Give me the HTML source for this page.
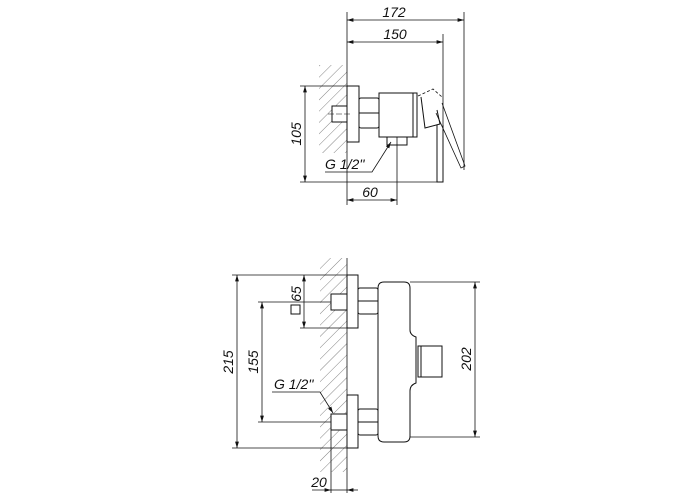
<!DOCTYPE html>
<html><head><meta charset="utf-8"><style>
html,body{margin:0;padding:0;background:#fff;}
svg{display:block;}
text{font-family:"Liberation Sans",sans-serif;font-style:italic;font-size:14px;fill:#111;}
</style></head><body>
<svg width="700" height="500" viewBox="0 0 700 500" xmlns="http://www.w3.org/2000/svg">
<defs>
<pattern id="h" patternUnits="userSpaceOnUse" width="8" height="8" patternTransform="rotate(45)">
<line x1="0" y1="0" x2="0" y2="8" stroke="#777" stroke-width="0.9"/>
</pattern>
<marker id="a" viewBox="0 0 10 10" refX="10" refY="5" markerWidth="8" markerHeight="8" orient="auto-start-reverse">
<path d="M0,2 L10,5 L0,8 z" fill="#111"/>
</marker>
</defs>
<g stroke="#111" fill="none" stroke-width="1">
<!-- TOP VIEW -->
<rect x="319" y="65" width="28" height="88" fill="url(#h)" stroke="none"/>
<line x1="347" y1="12" x2="347" y2="205" stroke-width="0.8"/>
<line x1="464" y1="12" x2="464" y2="170" stroke-width="0.8"/>
<line x1="443" y1="34" x2="443" y2="182" stroke-width="0.8"/>
<line x1="347" y1="20" x2="464" y2="20" marker-start="url(#a)" marker-end="url(#a)" stroke-width="0.8"/>
<line x1="347" y1="42" x2="443" y2="42" marker-start="url(#a)" marker-end="url(#a)" stroke-width="0.8"/>
<line x1="300" y1="86" x2="347" y2="86" stroke-width="0.8"/>
<line x1="300" y1="182" x2="443" y2="182" stroke-width="0.8"/>
<line x1="305" y1="86" x2="305" y2="182" marker-start="url(#a)" marker-end="url(#a)" stroke-width="0.8"/>
<rect x="347" y="86" width="12" height="56" fill="#fff"/>
<rect x="332" y="106" width="15" height="16" fill="#fff"/>
<line x1="328" y1="114" x2="352" y2="114" stroke-dasharray="6 2" stroke-width="0.6"/>
<rect x="359" y="98" width="20" height="30" rx="2" fill="#fff"/>
<line x1="359" y1="113" x2="379" y2="113"/>
<rect x="379" y="93" width="38" height="44" fill="#fff"/>
<line x1="413" y1="93" x2="413" y2="137"/>
<rect x="387" y="137" width="20" height="8" fill="#fff"/>
<line x1="397" y1="137" x2="397" y2="205" stroke-width="0.8"/>
<path d="M418,96 L433,89 L442,97" stroke-dasharray="3 2" stroke-width="0.8"/>
<path d="M421,97 L425,128 L440,124 L437,110"/>
<path d="M437,125 L437,182 L443,182 L443,125"/>
<path d="M436,113 L461,168 L465,166 L442,103" stroke-width="0.8"/>
<line x1="347" y1="200" x2="397" y2="200" marker-start="url(#a)" marker-end="url(#a)" stroke-width="0.8"/>
<path d="M325,172 L372,172 L391,142" stroke-width="0.8" marker-end="url(#a)"/>
<!-- BOTTOM VIEW -->
<rect x="320" y="258" width="27" height="214" fill="url(#h)" stroke="none"/>
<line x1="347" y1="258" x2="347" y2="493" stroke-width="0.8"/>
<line x1="331" y1="425" x2="331" y2="493" stroke-width="0.8"/>
<line x1="232" y1="275" x2="358" y2="275" stroke-width="0.8"/>
<line x1="232" y1="448" x2="358" y2="448" stroke-width="0.8"/>
<line x1="237" y1="275" x2="237" y2="448" marker-start="url(#a)" marker-end="url(#a)" stroke-width="0.8"/>
<line x1="258" y1="302" x2="352" y2="302" stroke-width="0.8"/>
<line x1="258" y1="422" x2="352" y2="422" stroke-width="0.8"/>
<line x1="262" y1="302" x2="262" y2="422" marker-start="url(#a)" marker-end="url(#a)" stroke-width="0.8"/>
<line x1="300" y1="328" x2="358" y2="328" stroke-width="0.8"/>
<line x1="304" y1="275" x2="304" y2="328" marker-start="url(#a)" marker-end="url(#a)" stroke-width="0.8"/>
<rect x="291" y="305" width="9" height="9" stroke-width="1"/>
<rect x="347" y="275" width="11" height="53" fill="#fff"/>
<rect x="331" y="294" width="16" height="16" fill="#fff"/>
<rect x="358" y="288" width="20" height="26" rx="2" fill="#fff"/>
<line x1="358" y1="301" x2="378" y2="301"/>
<rect x="347" y="395" width="11" height="53" fill="#fff"/>
<rect x="331" y="414" width="16" height="16" fill="#fff"/>
<rect x="358" y="409" width="20" height="26" rx="2" fill="#fff"/>
<line x1="358" y1="422" x2="378" y2="422"/>
<path d="M384,282 L404,282 Q410,282 410,288 L410,330 Q410,335 416,337 L416,383 Q410,385 410,391 L410,436 Q410,442 404,442 L384,442 Q378,442 378,436 L378,288 Q378,282 384,282 Z" fill="#fff"/>
<rect x="418" y="346" width="24" height="31"/>
<line x1="421" y1="346" x2="421" y2="377"/>
<line x1="410" y1="282" x2="480" y2="282" stroke-width="0.8"/>
<line x1="410" y1="437" x2="480" y2="437" stroke-width="0.8"/>
<line x1="475" y1="282" x2="475" y2="437" marker-start="url(#a)" marker-end="url(#a)" stroke-width="0.8"/>
<path d="M272,392 L320,392 L333,413" stroke-width="0.8" marker-end="url(#a)"/>
<line x1="312" y1="490" x2="331" y2="490" stroke-width="0.8" marker-end="url(#a)"/>
<line x1="358" y1="490" x2="347" y2="490" stroke-width="0.8" marker-end="url(#a)"/>
<line x1="331" y1="490" x2="347" y2="490" stroke-width="0.8"/>
</g>
<text x="394" y="17" text-anchor="middle">172</text>
<text x="395" y="39" text-anchor="middle">150</text>
<text transform="translate(301,134) rotate(-90)" text-anchor="middle">105</text>
<text x="325" y="169">G 1/2''</text>
<text x="370" y="197" text-anchor="middle">60</text>
<text transform="translate(233,362) rotate(-90)" text-anchor="middle">215</text>
<text transform="translate(258,362) rotate(-90)" text-anchor="middle">155</text>
<text transform="translate(301,294) rotate(-90)" text-anchor="middle">65</text>
<text transform="translate(471,359) rotate(-90)" text-anchor="middle">202</text>
<text x="274" y="389">G 1/2''</text>
<text x="319" y="487" text-anchor="middle">20</text>
</svg>
</body></html>
